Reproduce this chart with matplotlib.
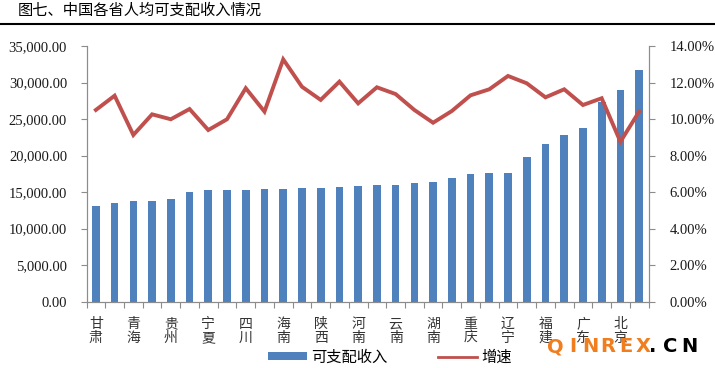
import numpy as np
import matplotlib.pyplot as plt
from matplotlib.ticker import FuncFormatter

# visible category labels (every other category is unlabeled in the original)
tick_labels = ['甘\n肃', '', '青\n海', '', '贵\n州', '', '宁\n夏', '', '四\n川', '',
               '海\n南', '', '陕\n西', '', '河\n南', '', '云\n南', '', '湖\n南', '',
               '重\n庆', '', '辽\n宁', '', '福\n建', '', '广\n东', '', '北\n京', '']

income = [13130, 13540, 13780, 13780, 14050, 14970, 15280, 15280, 15280, 15420,
          15420, 15550, 15550, 15690, 15830, 15930, 15950, 16200, 16420, 16960,
          17430, 17570, 17570, 19840, 21610, 22800, 23800, 27360, 28920, 31700]

growth = [10.50, 11.28, 9.13, 10.26, 9.99, 10.55, 9.40, 9.99, 11.69, 10.41,
          13.27, 11.77, 11.05, 12.05, 10.86, 11.74, 11.37, 10.50, 9.80, 10.44,
          11.30, 11.63, 12.36, 11.96, 11.19, 11.63, 10.77, 11.14, 8.76, 10.41]

plt.rcParams['font.family'] = ['Noto Sans CJK SC', 'DejaVu Sans']

bar_color = '#4F81BD'
line_color = '#C0504D'
axis_color = '#8C8C8C'

fig = plt.figure(figsize=(7.15, 3.68), dpi=100)

# title and rule underneath
fig.text(0.025, 0.972, '图七、中国各省人均可支配收入情况', fontsize=11, va='center', ha='left')
fig.add_artist(plt.Line2D([0, 1], [0.935, 0.935], color='black', lw=1.5))

ax = fig.add_axes([0.121, 0.180, 0.786, 0.695])
x = np.arange(len(income))
bars = ax.bar(x, income, width=0.41, color=bar_color, label='可支配收入')
ax.set_xlim(-0.5, len(income) - 0.5)
ax.set_ylim(0, 35000)
ax.set_yticks(np.arange(0, 35001, 5000))
ax.yaxis.set_major_formatter(FuncFormatter(lambda v, p: f'{v:,.2f}'))

ax2 = ax.twinx()
line, = ax2.plot(x, np.array(growth) / 100, color=line_color, lw=2.8, label='增速',
                 solid_joinstyle='miter')
ax2.set_ylim(0, 0.14)
ax2.set_yticks(np.arange(0, 0.1401, 0.02))
ax2.yaxis.set_major_formatter(FuncFormatter(lambda v, p: f'{v * 100:.2f}%'))

for a in (ax, ax2):
    a.spines['top'].set_visible(False)
    for s in ('left', 'right', 'bottom'):
        a.spines[s].set_color(axis_color)
    a.tick_params(axis='y', colors=axis_color, length=4, labelcolor='#1a1a1a')
    for lab in a.get_yticklabels():
        lab.set_family('Liberation Serif')
        lab.set_fontsize(10.5)

ax.tick_params(axis='y', pad=10)
ax2.tick_params(axis='y', pad=11)

# category ticks between bars, labels at bar centres
ax.set_xticks(np.arange(-0.5, len(income), 1.0))
ax.set_xticklabels([])
ax.tick_params(axis='x', which='major', colors=axis_color, length=4)
ax.set_xticks(x, minor=True)
ax.set_xticklabels(tick_labels, minor=True, fontsize=10, linespacing=1.0)
ax.tick_params(axis='x', which='minor', length=0, pad=11, labelcolor='#333333')

leg = fig.legend(handles=[bars, line], loc='center', bbox_to_anchor=(0.545, 0.03),
                 ncol=2, frameon=False, fontsize=11, handlelength=2.6, handleheight=0.5,
                 columnspacing=3.3, handletextpad=0.25)
leg.get_lines()[0].set_linewidth(2.0)

# watermark, letters spaced out one by one
for i, ch in enumerate('QINREX'):
    fig.text((555 + 17.7 * i) / 715, 0.058, ch, color='#F07D1E', fontsize=14,
             fontweight='bold', family='DejaVu Sans', ha='center', va='center')
for xp, ch in zip((653, 670, 689), '.CN'):
    fig.text(xp / 715, 0.058, ch, color='black', fontsize=14,
             fontweight='bold', family='DejaVu Sans', ha='center', va='center')

plt.savefig('out.png', dpi=100)
